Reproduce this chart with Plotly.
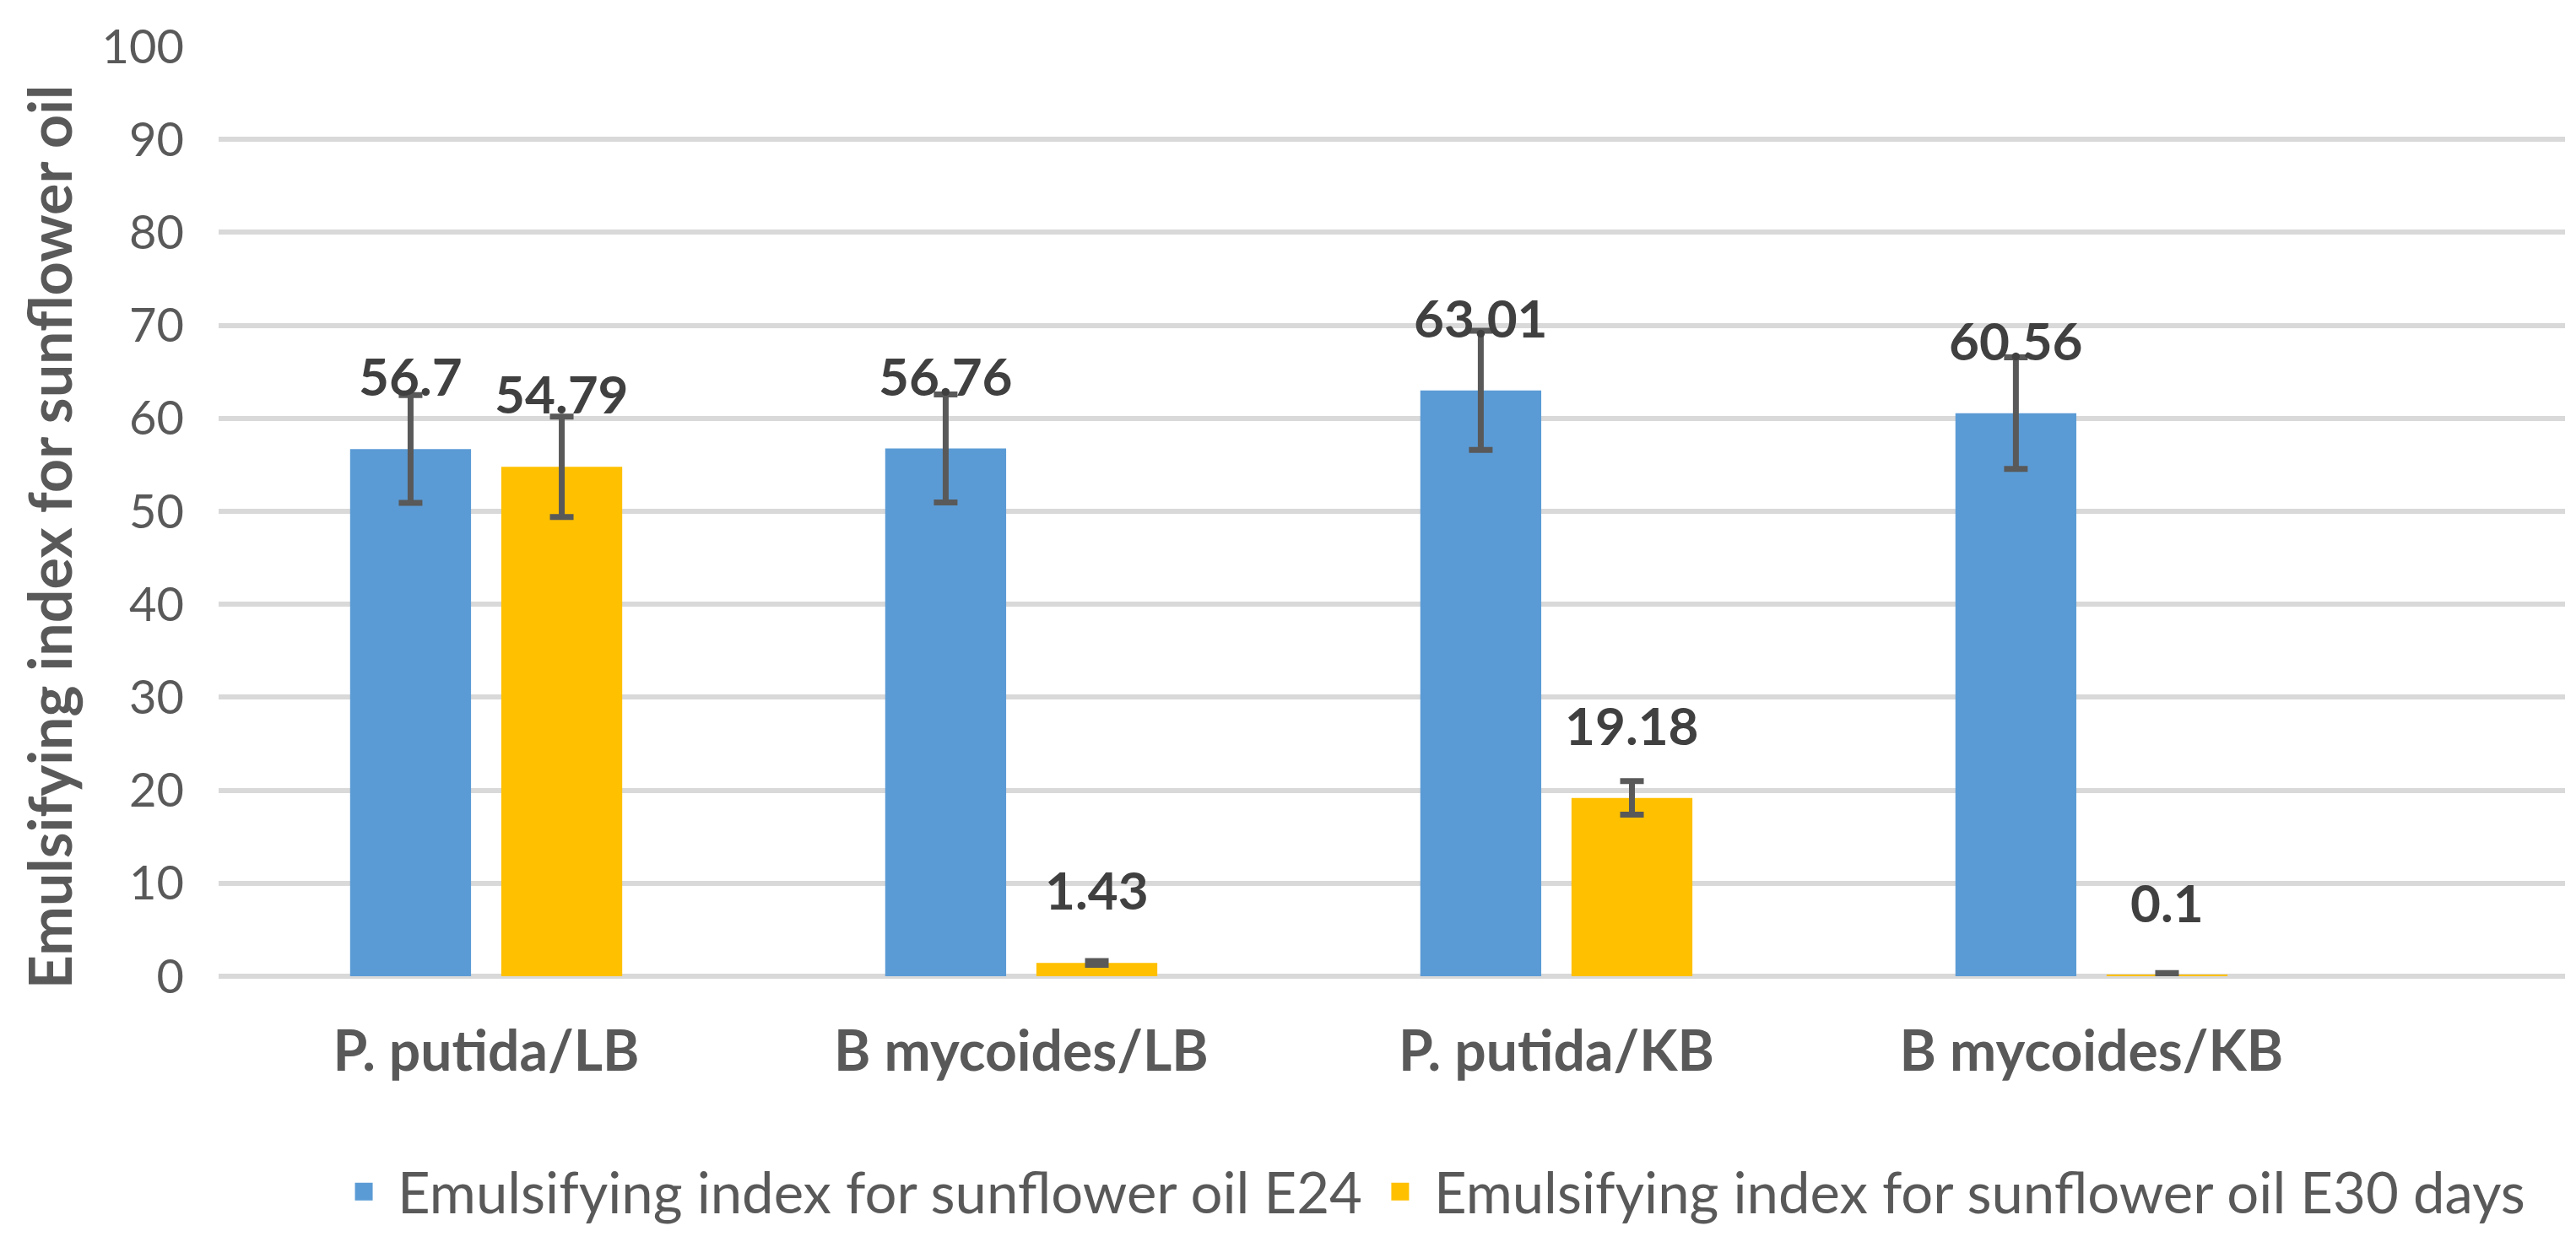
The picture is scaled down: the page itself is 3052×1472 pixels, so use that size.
import plotly.graph_objects as go

categories = ["P. putida/LB", "B mycoides/LB", "P. putida/KB", "B mycoides/KB"]
series_names = ["Emulsifying index for sunflower oil E24",
                "Emulsifying index for sunflower oil E30 days"]
e24_values = [56.7, 56.76, 63.01, 60.56]
e24_errors = [5.8, 5.8, 6.4, 6.0]
e30_values = [54.79, 1.43, 19.18, 0.1]
e30_errors = [5.4, 0.2, 1.8, 0.25]
y_ticks = [0, 10, 20, 30, 40, 50, 60, 70, 80, 90, 100]
y_title = "Emulsifying index for sunflower oil"

BLUE = "#5B9BD5"
YELLOW = "#FFC000"
GRID = "#D9D9D9"
TXT = "#595959"
LBL = "#404040"
FONT = "Lato"

BARGAP = 0.435
BARGROUPGAP = 0.2

fig = go.Figure()
for k, (name, vals, errs, col) in enumerate([(series_names[0], e24_values, e24_errors, BLUE),
                                             (series_names[1], e30_values, e30_errors, YELLOW)]):
    fig.add_trace(go.Bar(
        name=name, x=categories, y=vals, legendgroup=f"g{k}", showlegend=False,
        marker=dict(color=col, line=dict(width=0)),
        error_y=dict(type="data", array=errs, visible=True,
                     color=TXT, thickness=7, width=14),
        hoverinfo="x+y",
    ))
    # legend entry with a larger square swatch
    fig.add_trace(go.Scatter(
        name=name, x=[None], y=[None], mode="markers", legendgroup=f"g{k}",
        marker=dict(symbol="square", size=16, color=col, line=dict(color=col, width=5)),
        hoverinfo="skip",
    ))

# value labels above bars (offset within each category group)
slot = (1 - BARGAP) / 2
for s, vals in enumerate([e24_values, e30_values]):
    for i, v in enumerate(vals):
        xpos = i - slot / 2 + s * slot
        fig.add_annotation(
            x=xpos, y=v, xref="x", yref="y", text=f"{v:g}",
            showarrow=False, xanchor="center", yanchor="bottom", yshift=48,
            font=dict(family=FONT, size=62, color=LBL, weight=700),
        )

# y-axis title
fig.add_annotation(
    x=-0.0723, y=0.4725, xref="paper", yref="paper", text=y_title,
    textangle=-90, showarrow=False, xanchor="center", yanchor="middle",
    font=dict(family=FONT, size=70, color=TXT, weight=700),
)

fig.update_layout(
    width=3052, height=1472,
    margin=dict(l=251, r=21, t=42, b=323, pad=0),
    plot_bgcolor="white", paper_bgcolor="white",
    bargap=BARGAP, bargroupgap=BARGROUPGAP, barmode="group",
    showlegend=True,
    legend=dict(orientation="h", x=0.0475, y=-0.232, xanchor="left", yanchor="middle",
                itemwidth=70,
                font=dict(family=FONT, size=67, color=TXT), bgcolor="rgba(0,0,0,0)"),
    xaxis=dict(type="category", categoryorder="array", categoryarray=categories,
               range=[-0.5, 3.885], showgrid=False, showline=False,
               zeroline=False, ticks="", ticklabelstandoff=45,
               tickfont=dict(family=FONT, size=66, color=TXT, weight=700)),
    yaxis=dict(range=[0, 100], tickvals=y_ticks, showgrid=True, gridcolor=GRID,
               gridwidth=6, zeroline=True, zerolinecolor=GRID, zerolinewidth=6,
               showline=False, ticks="", ticklabelstandoff=40,
               tickfont=dict(family=FONT, size=56, color=TXT)),
)

fig.write_html("out.html")
